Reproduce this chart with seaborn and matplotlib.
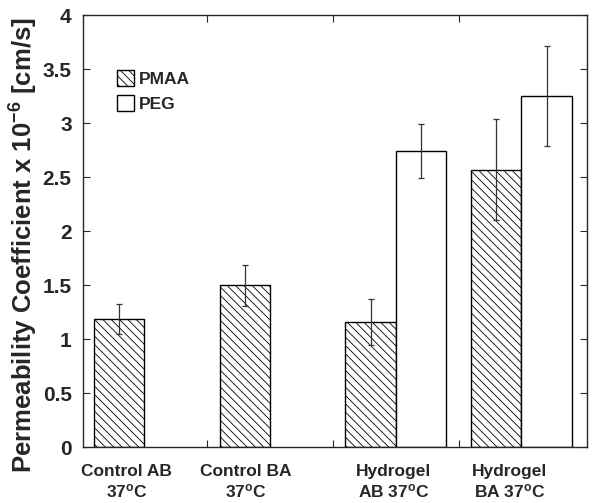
import pandas as pd
import numpy as np
import matplotlib
matplotlib.use("Agg")
import matplotlib.pyplot as plt
import matplotlib.transforms as mtrans
import seaborn as sns

groups = ["Control AB\n37$^{o}$C", "Control BA\n37$^{o}$C",
          "Hydrogel\nAB 37$^{o}$C", "Hydrogel\nBA 37$^{o}$C"]
pmaaVals = [1.19, 1.50, 1.16, 2.57]
pmaaErr = [0.14, 0.19, 0.21, 0.47]
pegGroups = ["Hydrogel\nAB 37$^{o}$C", "Hydrogel\nBA 37$^{o}$C"]
pegVals = [2.74, 3.25]
pegErr = [0.25, 0.46]
yTicks = [0, 0.5, 1, 1.5, 2, 2.5, 3, 3.5, 4]
yLabels = ["0", "0.5", "1", "1.5", "2", "2.5", "3", "3.5", "4"]

df = pd.concat([
    pd.DataFrame({"group": groups, "polymer": "PMAA", "value": pmaaVals, "err": pmaaErr}),
    pd.DataFrame({"group": pegGroups, "polymer": "PEG", "value": pegVals, "err": pegErr}),
], ignore_index=True)

sns.set_style("ticks")
plt.rcParams['font.family'] = ['Liberation Sans', 'DejaVu Sans']
plt.rcParams['font.weight'] = 'bold'
plt.rcParams['mathtext.default'] = 'regular'
plt.rcParams['hatch.linewidth'] = 0.6

fig = plt.figure(figsize=(6, 5.03), dpi=100)
ax = fig.add_axes([0.138, 0.111, 0.84, 0.859])

sns.barplot(data=df, x="group", y="value", hue="polymer", order=groups,
            hue_order=["PMAA", "PEG"], errorbar=None, width=0.8,
            edgecolor="black", linewidth=1.0, ax=ax)

hatches = {"PMAA": "\\\\\\\\", "PEG": ""}
for cont, name in zip(ax.containers, ["PMAA", "PEG"]):
    sub = df[df["polymer"] == name]
    sub = sub.set_index("group").reindex([g for g in groups if g in set(sub["group"])])
    for bar, err in zip(cont.patches, sub["err"]):
        bar.set_facecolor("white")
        bar.set_hatch(hatches[name])
        xc = bar.get_x() + bar.get_width() / 2
        ax.errorbar(xc, bar.get_height(), yerr=err, fmt="none", ecolor="#333333",
                    elinewidth=0.9, capsize=2.5, capthick=0.9)

ax.set_xlim(-0.49, 3.52)
ax.set_ylim(0, 4)
ax.set_yticks(yTicks)
ax.set_yticklabels(yLabels, fontweight='bold', fontsize=15)
ax.set_xticks([0, 1, 2, 3])
ax.set_xticklabels(groups, fontweight='bold', fontsize=12.5)
ax.tick_params(axis='x', which='major', length=0, pad=12)
ax.set_xticks([0.5, 1.5, 2.5], minor=True)
ax.tick_params(axis='x', which='minor', direction='in', length=5, top=True, bottom=True, width=0.8)
ax.tick_params(axis='y', which='major', direction='in', length=5, left=True, right=True, width=0.8, pad=8)
# labels sit a little left of the group centres in the original
for lbl, dx in zip(ax.get_xticklabels(), [-18, -24, -2, -12]):
    lbl.set_transform(lbl.get_transform() + mtrans.ScaledTranslation(dx / 100, 0, fig.dpi_scale_trans))
for s in ax.spines.values():
    s.set_visible(True)
    s.set_linewidth(1.0)

ax.set_xlabel("")
ax.set_ylabel("Permeability Coefficient x 10$^{-6}$ [cm/s]", fontweight='bold', fontsize=18.5)
ax.yaxis.set_label_coords(-0.085, 0.468)

handles, labels = ax.get_legend_handles_labels()
for h, name in zip(handles, labels):
    h.set_facecolor("white")
    h.set_edgecolor("black")
    h.set_hatch(hatches[name])
ax.legend(handles, labels, loc="upper left", bbox_to_anchor=(0.067, 0.873), frameon=False,
          borderaxespad=0, borderpad=0, handlelength=1.0, handleheight=1.0,
          handletextpad=0.3, labelspacing=0.5, prop={'weight': 'bold', 'size': 12.5})

plt.savefig("out.png", dpi=100)
